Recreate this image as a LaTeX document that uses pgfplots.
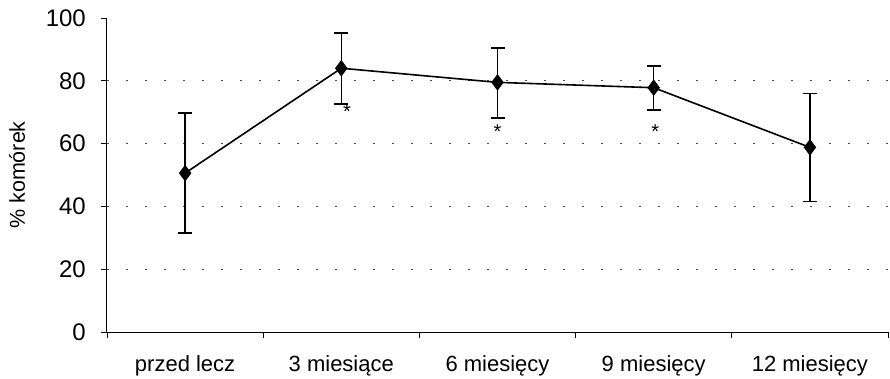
\documentclass[border=0pt]{standalone}
\usepackage{pgfplots}
\pgfplotsset{compat=1.18}
\usepackage{fontspec}
\setmainfont{Liberation Sans}
\begin{document}
\begin{tikzpicture}
\begin{axis}[
  scale only axis, width=781pt, height=314pt,
  xmin=-0.5, xmax=4.5, ymin=0, ymax=100,
  axis x line*=bottom, axis y line*=left,
  axis line style={-, line width=1pt},
  xtick={-0.5,0.5,1.5,2.5,3.5,4.5},
  x tick label as interval,
  xticklabels={przed lecz, 3 miesiące, 6 miesięcy, 9 miesięcy, 12 miesięcy},
  ytick={0,20,40,60,80,100},
  yticklabels={0,20,40,60,80,100},
  tick align=outside,
  major tick length=6pt,
  tick style={black, line width=0.8pt},
  extra y ticks={20,40,60,80},
  extra y tick labels={},
  extra y tick style={grid=major, major grid style={black!70, line width=1.3pt, dash pattern=on 1.8pt off 17.2pt}},
  y tick label style={font=\fontsize{24}{26}\selectfont, anchor=east, inner sep=0pt, xshift=-15pt},
  x tick label style={font=\fontsize{22}{24}\selectfont, yshift=-14pt},
  ylabel={\% komórek},
  every axis y label/.style={at={(axis description cs:0,0.5)}, xshift=-90pt, rotate=90, anchor=center, font=\fontsize{21.5}{24}\selectfont},
  clip=false,
]
\addplot[black, line width=1.6pt, mark=diamond*, mark size=7pt,
  error bars/.cd, y dir=both, y explicit,
  error bar style={line width=1.5pt, black},
  error mark options={rotate=90, mark size=7pt, line width=1.5pt, black}]
  table[x=x, y=y, y error plus=ep, y error minus=em] {
x y ep em
0 50.6 19.1 19.1
1 84.0 11.2 11.4
2 79.5 10.9 11.3
3 77.8 6.9 7.1
4 58.8 17.2 17.3
};
\node[anchor=north, inner sep=0pt, font=\fontsize{20}{20}\selectfont] at (axis cs:1.036,72.5) {*};
\node[anchor=north, inner sep=0pt, font=\fontsize{20}{20}\selectfont] at (axis cs:2.0,66.2) {*};
\node[anchor=north, inner sep=0pt, font=\fontsize{20}{20}\selectfont] at (axis cs:3.01,66.2) {*};
\end{axis}
\pgfresetboundingbox
\path[use as bounding box] (-107pt,-46pt) rectangle (783pt,332pt);
\end{tikzpicture}
\end{document}
